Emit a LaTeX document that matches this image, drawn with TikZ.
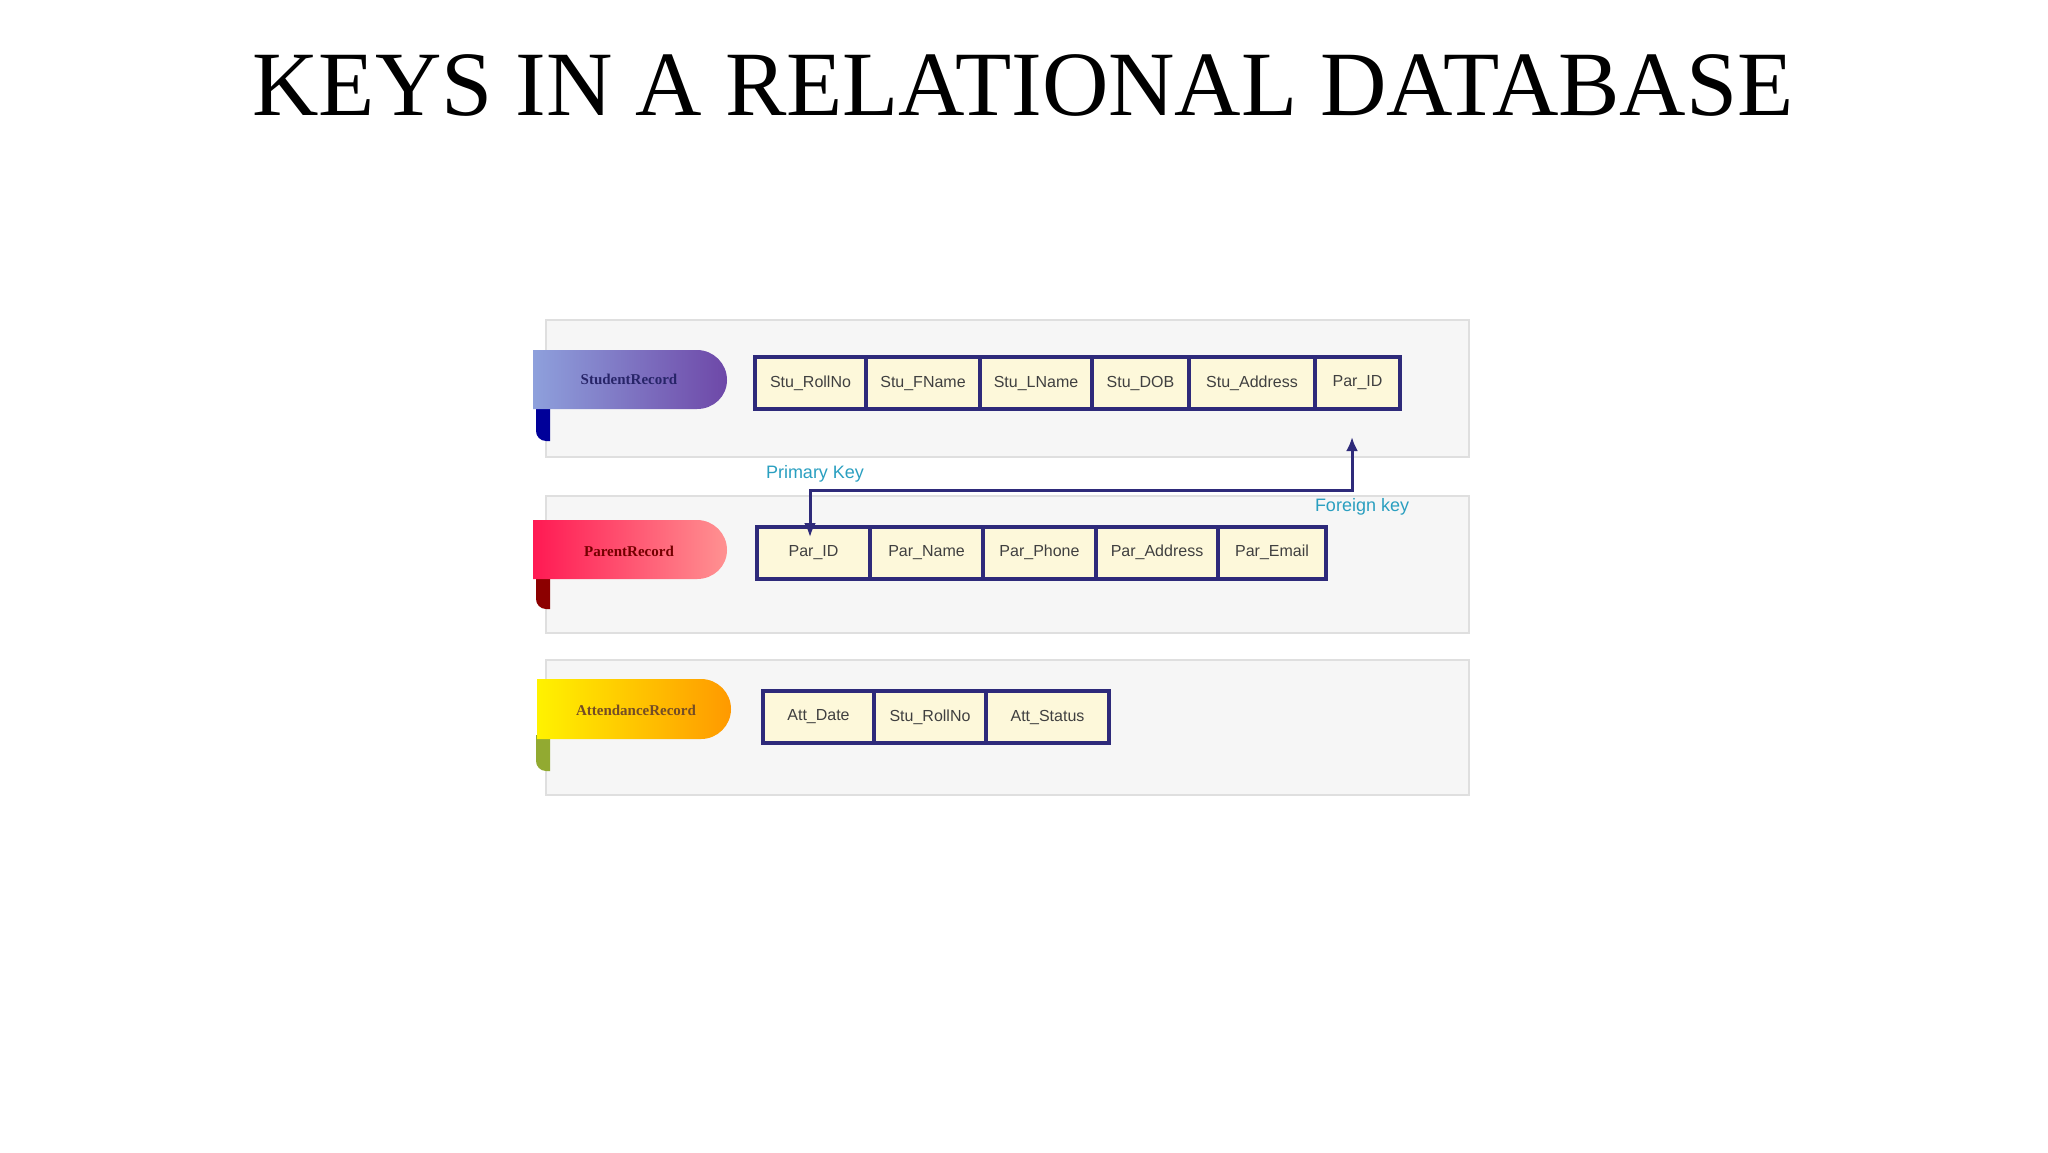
\documentclass[tikz,border=0pt]{standalone}
\usepackage{fontspec}
\setmainfont{Liberation Serif}
\newfontfamily\cellfont{Liberation Sans}
\usetikzlibrary{arrows.meta}
\definecolor{navy}{HTML}{2E2A7A}
\definecolor{cellfill}{HTML}{FDF8DA}
\definecolor{keyblue}{HTML}{2A9FC0}
\definecolor{stuL}{HTML}{8EA0DC}
\definecolor{stuR}{HTML}{6E48A8}
\tikzset{
 cell/.style={draw=navy, line width=2pt, fill=cellfill, minimum height=26pt, inner sep=0pt, font=\cellfont\fontsize{8}{9}\selectfont, text=black!75},
 panel/.style={fill=gray!7, draw=gray!25, line width=1pt},
 tabtext/.style={font=\fontsize{7.5}{9}\selectfont\bfseries},
 keylabel/.style={text=keyblue, font=\cellfont\fontsize{9}{10}\selectfont},
}
\begin{document}
\begin{tikzpicture}[x=0.5pt,y=-0.5pt]
\useasboundingbox (0,0) rectangle (2048,1152);
\node[font=\fontsize{46}{52}\selectfont] (title) at (1023,85) {KEYS IN A RELATIONAL DATABASE};
% panels
\path[panel] (546,320) rectangle (1469,457);
\path[panel] (546,496) rectangle (1469,633);
\path[panel] (546,660) rectangle (1469,795);
% tabs
\fill[blue!60!black] (536,405) -- (536,431) .. controls (536,436) and (540,441) .. (546,441) -- (550,441) -- (550,405) -- cycle;
\shade[left color=stuL, right color=stuR] (533,350) -- (697,350) .. controls (713.5,350) and (727,363.5) .. (727,380) .. controls (727,396.5) and (713.5,409) .. (697,409) -- (533,409) -- cycle;
\node[tabtext, text=navy!85!black] (t1) at (629,379) {StudentRecord};
\fill[red!55!black] (536,575) -- (536,599) .. controls (536,604) and (540,609) .. (546,609) -- (550,609) -- (550,575) -- cycle;
\shade[left color=red!75!magenta!90!white, right color=red!45!white!90!pink] (533,520) -- (697,520) .. controls (713.5,520) and (727,533.5) .. (727,550) .. controls (727,566.5) and (713.5,579) .. (697,579) -- (533,579) -- cycle;
\node[tabtext, text=red!45!black] (t2) at (629,551) {ParentRecord};
\fill[olive!70!green!80] (536,735) -- (536,761) .. controls (536,766) and (540,771) .. (546,771) -- (550,771) -- (550,735) -- cycle;
\shade[left color=yellow!90!orange, right color=orange!80!yellow] (537,679) -- (701,679) .. controls (717.5,679) and (731,692.5) .. (731,709) .. controls (731,725.5) and (717.5,739) .. (701,739) -- (537,739) -- cycle;
\node[tabtext, text=brown!60!black] (t3) at (636,710) {AttendanceRecord};
% student cells
\node[cell, minimum width=55.5pt] (s1) at (810.5,383) {Stu\_RollNo};
\node[cell, minimum width=57pt] (s2) at (923,383) {Stu\_FName};
\node[cell, minimum width=56pt] (s3) at (1036,383) {Stu\_LName};
\node[cell, minimum width=48.5pt] (s4) at (1140.5,383) {Stu\_DOB};
\node[cell, minimum width=63pt] (s5) at (1252,383) {Stu\_Address};
\node[cell, minimum width=42.5pt] (s6) at (1357.5,383) {Par\_ID};
% parent cells
\node[cell, minimum width=56.5pt] (p1) at (813.5,552.5) {Par\_ID};
\node[cell, minimum width=56.5pt] (p2) at (926.5,552.5) {Par\_Name};
\node[cell, minimum width=56.5pt] (p3) at (1039.5,552.5) {Par\_Phone};
\node[cell, minimum width=61pt] (p4) at (1157,552.5) {Par\_Address};
\node[cell, minimum width=54pt] (p5) at (1272,552.5) {Par\_Email};
% attendance cells
\node[cell, minimum width=55.5pt] (a1) at (818.5,717) {Att\_Date};
\node[cell, minimum width=56pt] (a2) at (930,717) {Stu\_RollNo};
\node[cell, minimum width=61.5pt] (a3) at (1047.5,717) {Att\_Status};
% key arrow
\coordinate (fk) at (1352,437);
\coordinate (pk) at (810,537);
\draw[navy, line width=1.5pt, {Latex[length=7pt,width=6pt]}-{Latex[length=7pt,width=6pt]}] (fk) -- (1352,490) -| (pk);
\node[keylabel] (pkl) at (815,474) {Primary Key};
\node[keylabel] (fkl) at (1362,507) {Foreign key};
\end{tikzpicture}
\end{document}
